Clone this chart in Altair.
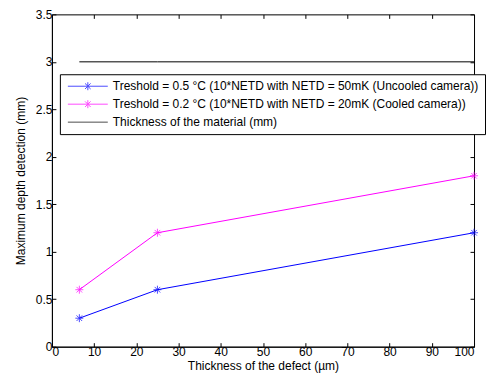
import altair as alt
import pandas as pd

defect_um = [6.5, 25, 100]
uncooled_mm = [0.3, 0.6, 1.2]
cooled_mm = [0.6, 1.2, 1.8]
material_mm = [3, 3, 3]
series = [
    "Treshold = 0.5 °C (10*NETD with NETD = 50mK (Uncooled camera))",
    "Treshold = 0.2 °C (10*NETD with NETD = 20mK (Cooled camera))",
    "Thickness of the material (mm)",
]
colors = ["#0000FF", "#FF00FF", "#000000"]
x_ticks = [0, 10, 20, 30, 40, 50, 60, 70, 80, 90, 100]
y_ticks = [0, 0.5, 1, 1.5, 2, 2.5, 3, 3.5]

rows = []
for name, vals in zip(series, [uncooled_mm, cooled_mm, material_mm]):
    for i, (x, y) in enumerate(zip(defect_um, vals)):
        rows.append({"x": x, "y": y, "s": name, "order": i})
df = pd.DataFrame(rows)

STAR = "M-1,0L1,0M0,-1L0,1M-0.7,-0.7L0.7,0.7M-0.7,0.7L0.7,-0.7"
LEG_STAR = "M-5,0L5,0M0,-1L0,1M-0.7,-0.7L0.7,0.7M-0.7,0.7L0.7,-0.7"
LEG_LINE = "M-5,0L5,0"
FONT = "Liberation Sans"
FS = 12
inward = alt.ExprRef(expr="-4")

xs = alt.Scale(domain=[0, 100], nice=False, zero=False)
ys = alt.Scale(domain=[0, 3.5], nice=False)
cscale = alt.Scale(domain=series, range=colors)
legend = alt.Legend(
    orient="none", legendX=8, legendY=60, title=None,
    strokeColor="black", fillColor="white", padding=6,
    labelFont=FONT, labelFontSize=FS, labelColor="black", labelLimit=1000,
    symbolSize=64, symbolStrokeWidth=1,
    symbolOffset=16, rowPadding=6, labelOffset=19,
)

base = alt.Chart(df)

lines = base.mark_line(strokeWidth=1).encode(
    x=alt.X("x:Q", scale=xs, title="Thickness of the defect (µm)",
            axis=alt.Axis(values=x_ticks, tickSize=inward, labelPadding=4, grid=False,
                          titlePadding=3)),
    y=alt.Y("y:Q", scale=ys, title="Maximum depth detection (mm)",
            axis=alt.Axis(values=y_ticks, tickSize=inward, labelPadding=4, format="~g",
                          grid=False, titlePadding=8)),
    color=alt.Color("s:N", scale=cscale, legend=legend),
    order="order:Q",
)

points = base.transform_filter(alt.datum.s != series[2]).mark_point(
    shape=STAR, size=64, filled=False, strokeWidth=1
).encode(
    x=alt.X("x:Q", scale=xs, axis=None),
    y=alt.Y("y:Q", scale=ys, axis=None),
    color=alt.Color("s:N", scale=cscale, legend=legend),
)

legend_layer = base.transform_filter("false").mark_point(
    size=64, filled=False, strokeWidth=1
).encode(
    x=alt.X("x:Q", scale=xs, axis=None),
    y=alt.Y("y:Q", scale=ys, axis=None),
    color=alt.Color("s:N", scale=cscale, legend=legend),
    shape=alt.Shape("s:N", scale=alt.Scale(domain=series, range=[LEG_STAR, LEG_STAR, LEG_LINE]),
                    legend=legend),
)

mirror = base.mark_line(opacity=0).encode(
    x=alt.X("x:Q", scale=xs, axis=alt.Axis(orient="top", values=x_ticks, labels=False,
                                           domain=False, tickSize=inward, title=None, grid=False)),
    y=alt.Y("y:Q", scale=ys, axis=alt.Axis(orient="right", values=y_ticks, labels=False,
                                           domain=False, tickSize=inward, title=None, grid=False)),
)

chart = alt.layer(lines, points, legend_layer, mirror).resolve_axis(
    x="independent", y="independent"
).properties(
    width=423, height=333,
    padding={"left": 6, "top": 0, "right": 0, "bottom": 2},
    background="white",
).configure_view(stroke="black", strokeWidth=1).configure_axis(
    labelFont=FONT, titleFont=FONT, labelFontSize=FS, titleFontSize=FS,
    labelColor="black", titleColor="black", titleFontWeight="normal",
    domainColor="black", tickColor="black", domainWidth=1, tickWidth=1,
)

chart.save("out.html", embed_options={"renderer": "svg", "actions": False})
